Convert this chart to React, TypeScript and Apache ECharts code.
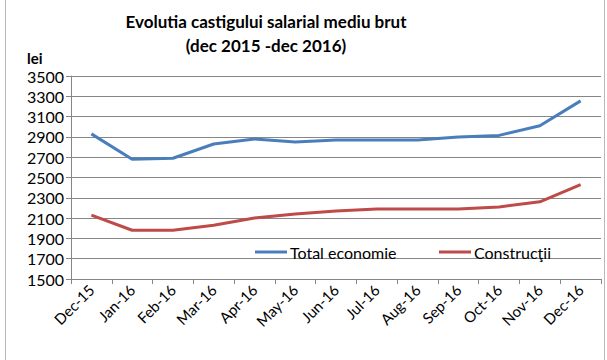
import React, { useEffect, useRef } from "react";
import * as echarts from "echarts";

const categories = ["Dec-15", "Jan-16", "Feb-16", "Mar-16", "Apr-16", "May-16", "Jun-16", "Jul-16", "Aug-16", "Sep-16", "Oct-16", "Nov-16", "Dec-16"];
const totalEconomie = [2930, 2680, 2690, 2830, 2880, 2850, 2870, 2870, 2870, 2900, 2915, 3010, 3255];
const constructii = [2130, 1980, 1980, 2030, 2100, 2140, 2170, 2190, 2190, 2190, 2210, 2260, 2430];
const seriesNames = ["Total economie", "Construcţii"];
const titleLines = ["Evolutia castigului salarial mediu brut", "(dec 2015 -dec 2016)"];
const unitLabel = "lei";

const FONT = "Lato, 'Liberation Sans', sans-serif";

export default function App() {
  const ref = useRef<HTMLDivElement>(null);
  useEffect(() => {
    if (!ref.current) return;
    const chart = echarts.init(ref.current, null, { renderer: "svg" });
    const legendCommon = {
      itemWidth: 32,
      itemHeight: 3,
      icon: "rect",
      top: 239,
      textStyle: { fontFamily: FONT, fontSize: 16, color: "#000", padding: [0, 0, 0, -2] },
    };
    chart.setOption({
      animation: false,
      backgroundColor: "#ffffff",
      textStyle: { fontFamily: FONT },
      title: {
        text: titleLines.join("\n"),
        left: 261,
        top: 4,
        textAlign: "center",
        textStyle: { fontFamily: FONT, fontSize: 17, fontWeight: "bold", color: "#000", lineHeight: 24 },
      },
      graphic: [
        { type: "text", left: 27, top: 50, style: { text: unitLabel, font: `bold 15px ${FONT}`, fill: "#000" } },
        { type: "line", shape: { x1: 5.5, y1: 0, x2: 5.5, y2: 360 }, style: { stroke: "#b8b8b8", lineWidth: 1 } },
        { type: "line", shape: { x1: 604.5, y1: 0, x2: 604.5, y2: 360 }, style: { stroke: "#b8b8b8", lineWidth: 1 } },
      ],
      legend: [
        { ...legendCommon, data: [seriesNames[0]], left: 250 },
        { ...legendCommon, data: [seriesNames[1]], left: 434 },
      ],
      grid: { left: 71, right: 6, top: 76, bottom: 81 },
      xAxis: {
        type: "category",
        data: categories,
        boundaryGap: true,
        axisLine: { show: true, lineStyle: { color: "#868686", width: 1 } },
        axisTick: { show: true, length: 5, lineStyle: { color: "#868686" } },
        axisLabel: { rotate: 45, fontSize: 15, color: "#000", fontFamily: FONT, margin: 8, interval: 0 },
      },
      yAxis: {
        type: "value",
        min: 1500,
        max: 3500,
        interval: 200,
        axisLine: { show: true, lineStyle: { color: "#868686", width: 1 } },
        axisTick: { show: true, length: 5, lineStyle: { color: "#868686" } },
        axisLabel: { fontSize: 16, color: "#000", fontFamily: FONT, margin: 7, formatter: (v: number) => String(v) },
        splitLine: { show: true, lineStyle: { color: "#868686", width: 1 } },
      },
      series: [
        {
          name: seriesNames[0],
          type: "line",
          data: totalEconomie,
          symbol: "none",
          lineStyle: { color: "#4a7ebb", width: 3 },
          itemStyle: { color: "#4a7ebb" },
        },
        {
          name: seriesNames[1],
          type: "line",
          data: constructii,
          symbol: "none",
          lineStyle: { color: "#be4b48", width: 3 },
          itemStyle: { color: "#be4b48" },
        },
      ],
    });
    return () => chart.dispose();
  }, []);
  return <div ref={ref} style={{ position: "fixed", left: 0, top: 0, width: 607, height: 360 }} />;
}
